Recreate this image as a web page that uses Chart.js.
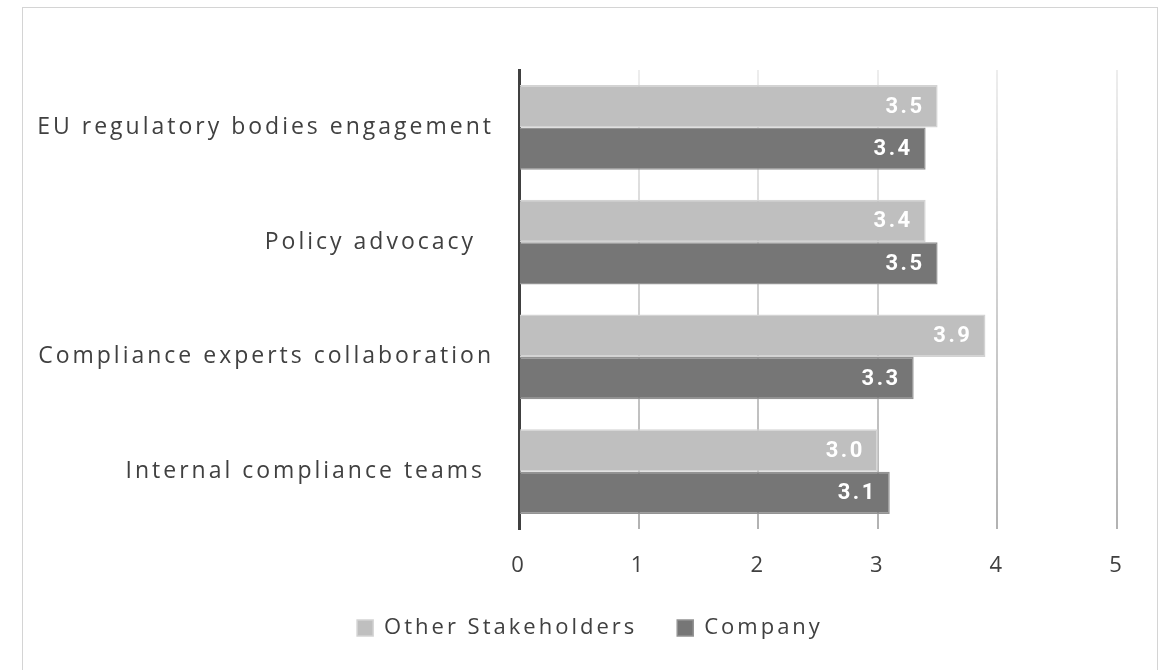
<!DOCTYPE html>
<html>
<head>
<meta charset="utf-8">
<title>Engagement ratings</title>
<script src="https://cdn.jsdelivr.net/npm/chart.js@4/dist/chart.umd.min.js"></script>
<style>
  html, body { margin: 0; padding: 0; background: #fff; }
  .frame {
    position: absolute;
    left: 22px;
    top: 7px;
    width: 1134px;
    height: 680px;
    border: 1px solid #d4d4d4;
  }
  .frame canvas { display: block; }
</style>
</head>
<body>
<div class="frame">
  <canvas id="ratingsChart" width="1134" height="662"></canvas>
</div>
<script>
// Ratings per engagement area
const categories = [
  'EU regulatory bodies engagement',
  'Policy advocacy  ',
  'Compliance experts collaboration',
  'Internal compliance teams '
];
const stakeholderScores = [3.5, 3.4, 3.9, 3.0];
const companyScores = [3.4, 3.5, 3.3, 3.1];
const scaleTicks = [0, 1, 2, 3, 4, 5];

const textColor = '#404040';
const labelFont = '"Open Sans", "DejaVu Sans", sans-serif';

// Wider tracking on all chart text
const trackingPlugin = {
  id: 'tracking',
  beforeUpdate(chart) { chart.ctx.letterSpacing = '3px'; },
  beforeDraw(chart) { chart.ctx.letterSpacing = '3px'; },
  afterDraw(chart) { chart.ctx.letterSpacing = '0px'; }
};

// White value labels at the end of each bar
const valueLabels = {
  id: 'valueLabels',
  afterDatasetsDraw(chart) {
    const ctx = chart.ctx;
    ctx.save();
    ctx.letterSpacing = '2.5px';
    ctx.font = '700 22px Roboto, "Liberation Sans", sans-serif';
    ctx.fillStyle = '#ffffff';
    ctx.textAlign = 'right';
    ctx.textBaseline = 'middle';
    chart.data.datasets.forEach((ds, i) => {
      chart.getDatasetMeta(i).data.forEach((bar, j) => {
        ctx.fillText(ds.data[j].toFixed(1), bar.x - 13, bar.y + 1);
      });
    });
    ctx.restore();
  }
};

function gridGradient(context) {
  const area = context.chart.chartArea;
  if (!area) return 'rgba(0,0,0,0.12)';
  const g = context.chart.ctx.createLinearGradient(0, area.top, 0, area.bottom);
  g.addColorStop(0, 'rgba(0,0,0,0.07)');
  g.addColorStop(1, 'rgba(0,0,0,0.3)');
  return g;
}

const ctx = document.getElementById('ratingsChart').getContext('2d');
new Chart(ctx, {
  type: 'bar',
  data: {
    labels: categories,
    datasets: [{
      label: 'Other Stakeholders',
      data: stakeholderScores,
      backgroundColor: '#bfbfbf',
      borderColor: '#d3d3d3',
      borderWidth: 1.5,
      borderSkipped: 'start',
      categoryPercentage: 0.74,
      barPercentage: 1.0
    }, {
      label: 'Company',
      data: companyScores,
      backgroundColor: '#767676',
      borderColor: '#939393',
      borderWidth: 1.5,
      borderSkipped: 'start',
      categoryPercentage: 0.74,
      barPercentage: 1.0
    }]
  },
  options: {
    responsive: false,
    animation: false,
    indexAxis: 'y',
    layout: { padding: { top: 62, right: 0, bottom: 21, left: 0 } },
    plugins: {
      tooltip: { enabled: false },
      legend: {
        position: 'bottom',
        labels: {
          color: textColor,
          font: { family: labelFont, size: 22 },
          boxWidth: 16,
          boxHeight: 16,
          padding: 40
        }
      }
    },
    scales: {
      x: {
        min: 0,
        max: 5,
        z: 1,
        afterBuildTicks(scale) {
          scale.ticks = scaleTicks.map(v => ({ value: v }));
        },
        afterFit(scale) { scale.height = 48; },
        grid: { color: gridGradient, lineWidth: 2, drawTicks: false },
        border: { display: false },
        ticks: {
          color: textColor,
          font: { family: labelFont, size: 22 },
          padding: 24
        }
      },
      y: {
        z: 1,
        afterFit(scale) { scale.width = 496; },
        grid: { display: false, drawTicks: false },
        border: { color: '#404040', width: 3 },
        ticks: {
          color: textColor,
          font: { family: labelFont, size: 23 },
          padding: 25
        }
      },
      // empty right-hand gutter so the legend stays centred on the frame
      gutter: {
        type: 'category',
        position: 'right',
        afterFit(scale) { scale.width = 40; },
        grid: { display: false, drawTicks: false },
        border: { display: false },
        ticks: { display: false }
      }
    }
  },
  plugins: [trackingPlugin, valueLabels]
});
</script>
</body>
</html>
